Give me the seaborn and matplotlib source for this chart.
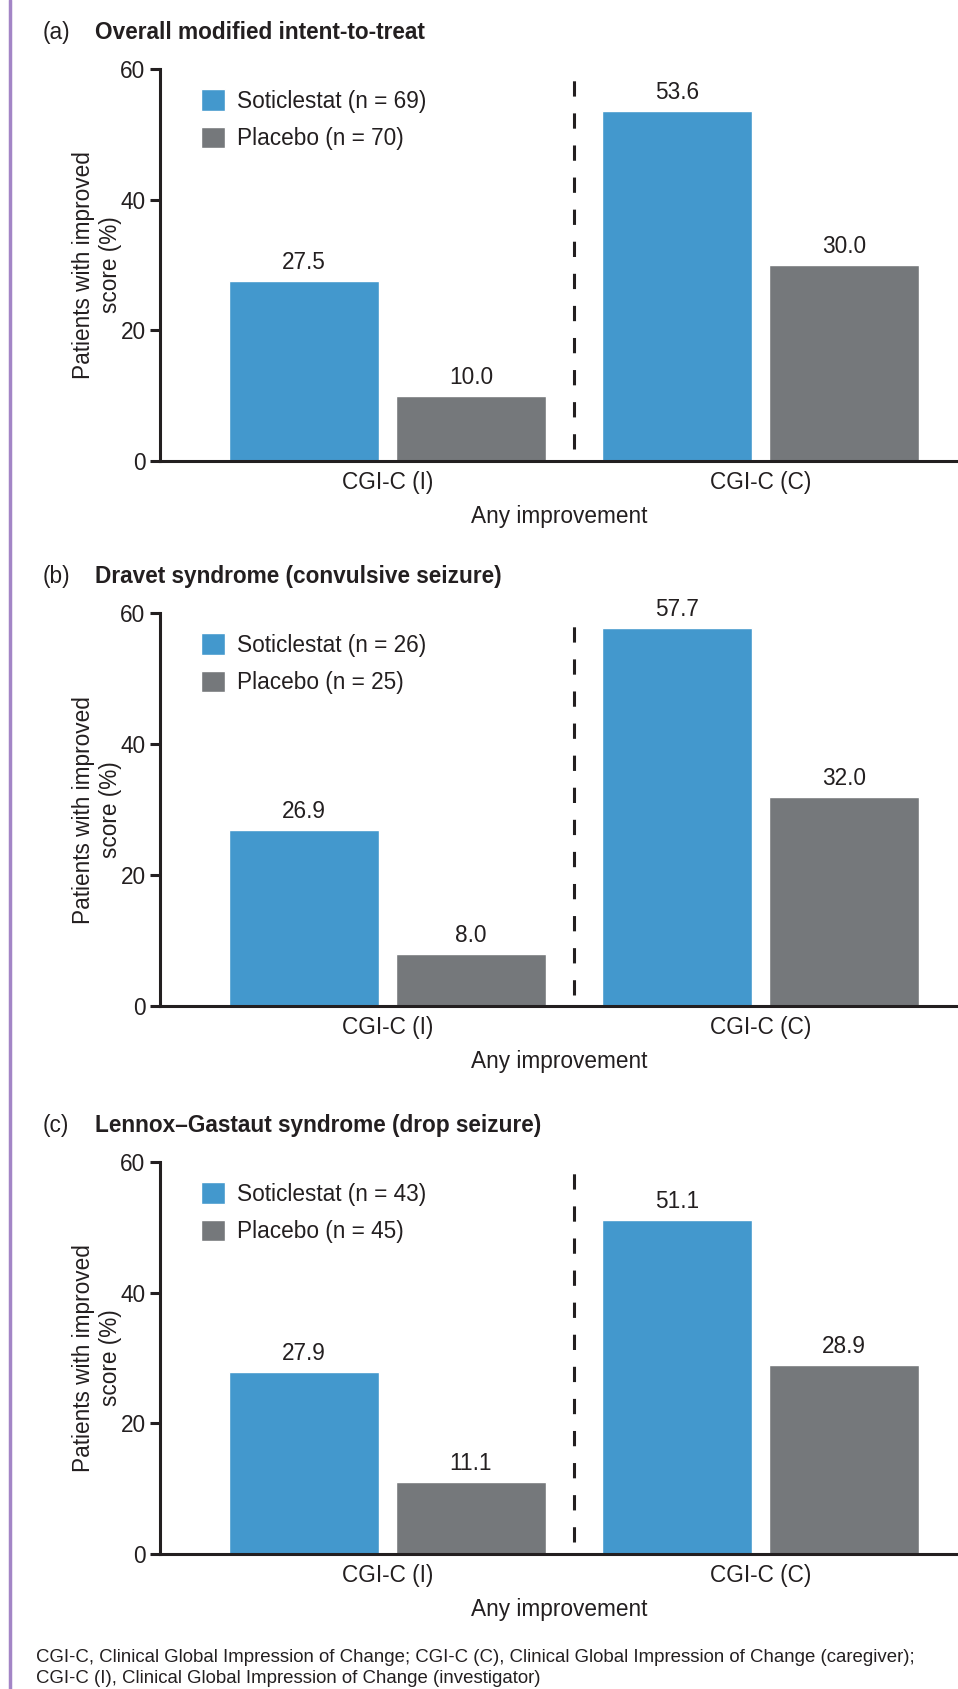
import numpy as np
import pandas as pd
import matplotlib
matplotlib.use("Agg")
import matplotlib.pyplot as plt
from matplotlib.lines import Line2D
import seaborn as sns

# data
groups = ["CGI-C (I)", "CGI-C (C)"]
panel_tags = ["(a)", "(b)", "(c)"]
panel_titles = ["Overall modified intent-to-treat",
                "Dravet syndrome (convulsive seizure)",
                "Lennox\u2013Gastaut syndrome (drop seizure)"]
soticlestat = [[27.5, 53.6], [26.9, 57.7], [27.9, 51.1]]
placebo = [[10.0, 30.0], [8.0, 32.0], [11.1, 28.9]]
n_soticlestat = [69, 26, 43]
n_placebo = [70, 25, 45]

blue = "#4398cd"
grey = "#75787b"
dark = "#231f20"
fs = 16.3

sns.set_style("white")
plt.rcParams['font.family'] = ['Liberation Sans', 'DejaVu Sans']
plt.rcParams['text.color'] = dark
plt.rcParams['axes.labelcolor'] = dark
plt.rcParams['xtick.color'] = dark
plt.rcParams['ytick.color'] = dark

fig = plt.figure(figsize=(9.58, 16.89), dpi=100)

# [bottom, top] of each panel axes in figure fraction
boxes = [(0.7271, 0.9591), (0.4041, 0.6371), (0.0799, 0.3120)]
left = 0.1665

for i in range(3):
    bot, top = boxes[i]
    ax = fig.add_axes([left, bot, 1.0 - left, top - bot])
    lab_s = f"Soticlestat (n = {n_soticlestat[i]})"
    lab_p = f"Placebo (n = {n_placebo[i]})"
    df = pd.DataFrame({
        "group": groups * 2,
        "arm": [lab_s] * 2 + [lab_p] * 2,
        "value": soticlestat[i] + placebo[i],
    })
    sns.barplot(data=df, x="group", y="value", hue="arm", order=groups,
                hue_order=[lab_s, lab_p], palette=[blue, grey],
                width=0.896, gap=0.103, saturation=1, errorbar=None, ax=ax)
    for cont in ax.containers:
        ax.bar_label(cont, fmt="%.1f", padding=5, fontsize=fs, color=dark)

    ax.axvline(0.5, ymin=0.03, ymax=0.972, color=dark, lw=2.2,
               linestyle=(0, (5, 5.5)))

    ax.set_xlim(-0.611, 1.53)
    ax.set_ylim(0, 60)
    ax.set_yticks([0, 20, 40, 60])
    ax.set_xlabel("Any improvement", fontsize=fs, labelpad=8)
    ax.set_ylabel("Patients with improved\nscore (%)", fontsize=fs,
                  labelpad=-1, linespacing=1.2)
    sns.despine(ax=ax, top=True, right=True)
    for s in ["left", "bottom"]:
        ax.spines[s].set_color(dark)
        ax.spines[s].set_linewidth(2.2)
    ax.tick_params(axis="y", left=True, length=7, width=2.2, labelsize=fs,
                   pad=3)
    ax.tick_params(axis="x", length=0, labelsize=fs, pad=7)

    ax.legend(loc="upper left", bbox_to_anchor=(0.04, 0.972), frameon=False,
              fontsize=fs, handlelength=1.1, handleheight=1.1,
              handletextpad=0.5, labelspacing=0.62, borderaxespad=0)

    ty = top + 0.0215
    fig.text(0.045, ty, panel_tags[i], fontsize=fs, va="center")
    fig.text(0.099, ty, panel_titles[i], fontsize=fs, fontweight="bold",
             va="center")

fig.text(0.038, 0.0125, "CGI-C, Clinical Global Impression of Change; "
         "CGI-C (C), Clinical Global Impression of Change (caregiver);\n"
         "CGI-C (I), Clinical Global Impression of Change (investigator)",
         fontsize=13.4, va="center", linespacing=1.35)

fig.add_artist(Line2D([0.0105, 0.0105], [0, 1], color="#a385c6", lw=2.5,
                      transform=fig.transFigure))

fig.savefig("out.png", dpi=100)
